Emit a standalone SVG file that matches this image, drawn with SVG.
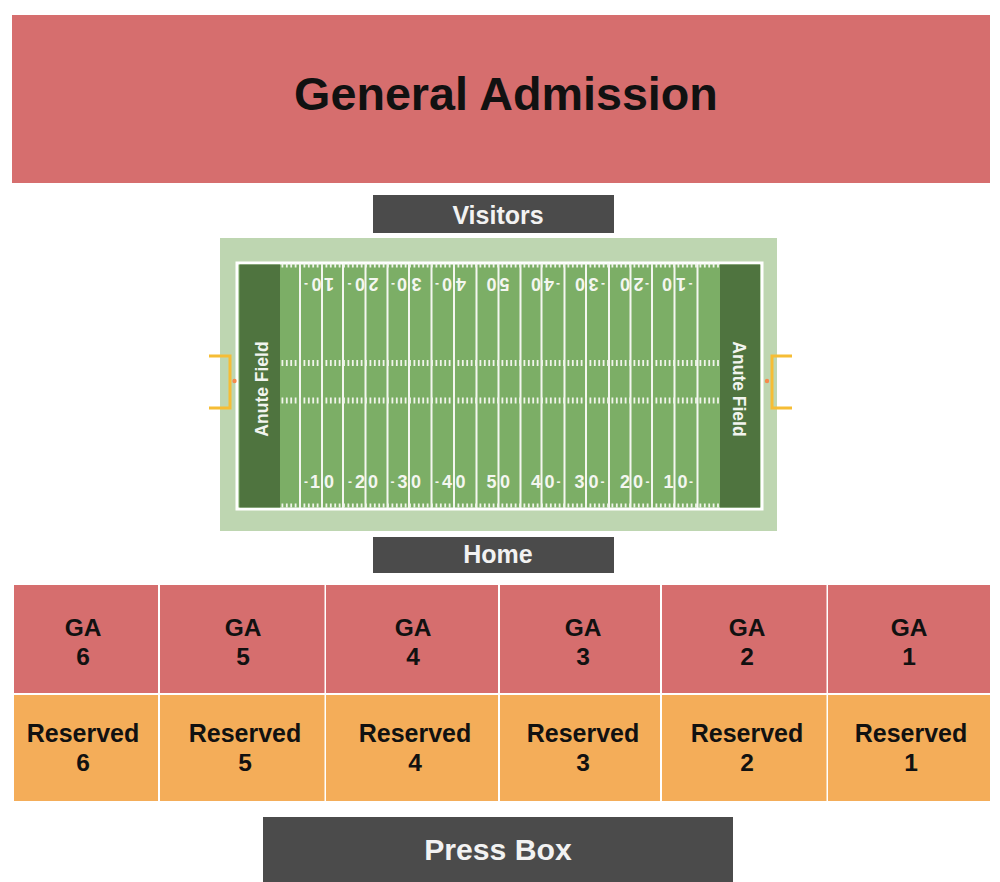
<svg xmlns="http://www.w3.org/2000/svg" width="1000" height="882" viewBox="0 0 1000 882">
<style>
text{font-family:"Liberation Sans",Arial,sans-serif;font-weight:700;text-anchor:middle;fill:#111}
.ga{fill:#d66e6e}.res{fill:#f4ad59}.dark{fill:#4b4b4b}
text.lab{fill:#f2f2f2}
.sec{font-size:24.5px}
.rs{font-size:25px}
.yl{stroke:#f4f6f0;stroke-width:2;fill:none}
.tick{stroke:#f0f4ea;stroke-width:4;stroke-dasharray:1.8 2.6;fill:none}
.hash{stroke:#f0f4ea;stroke-width:6;stroke-dasharray:1.8 2.6;fill:none}
text.num{fill:#f4f6f0;font-size:18px}
.d{font-size:12px}
.ez{fill:#4f743f}
text.ezt{fill:#f2f4ef;font-size:17.5px}
.post{stroke:#f6bd35;stroke-width:3;fill:none}
</style>
<g id="general-admission"><rect class="ga" x="12" y="15" width="978" height="168"/><text x="506" y="110" font-size="46.700">General Admission</text></g>
<g id="visitors"><rect class="dark" x="373" y="195" width="241" height="38"/><text class="lab" x="498" y="224" font-size="25">Visitors</text></g>
<g id="field">
<rect x="220" y="238" width="557" height="293" fill="#bed6b1"/>
<rect x="237" y="263" width="525" height="246" fill="#7cae66" stroke="#fff" stroke-width="3"/>
<rect class="ez" x="239.500" y="264.500" width="40.500" height="243"/>
<rect class="ez" x="720" y="264.500" width="40" height="243"/>
<path class="yl" d="M300 264V508M322 264V508M343 264V508M365.500 264V508M387.500 264V508M409 264V508M431.500 264V508M454 264V508M476.500 264V508M498.500 264V508M520.500 264V508M541.500 264V508M564.500 264V508M586 264V508M609 264V508M630.500 264V508M652 264V508M674.500 264V508M697.500 264V508"/>
<path class="tick" d="M281.500 265.500H719M281.500 505.500H719"/>
<path class="hash" d="M281.500 363H719M281.500 400.500H719"/>
<g id="yard-numbers-bottom">
<text class="num" x="306 315 329" y="485.500 488 488"><tspan class="d">-</tspan>10</text>
<text class="num" x="350 360 373" y="485.500 488 488"><tspan class="d">-</tspan>20</text>
<text class="num" x="392.500 402.500 416" y="485.500 488 488"><tspan class="d">-</tspan>30</text>
<text class="num" x="437 447 460.500" y="485.500 488 488"><tspan class="d">-</tspan>40</text>
<text class="num" x="491.500 505" y="488">50</text>
<text class="num" x="536 549.500 558.500" y="488 488 485.500">40<tspan class="d">-</tspan></text>
<text class="num" x="579.500 593.500 602.500" y="488 488 485.500">30<tspan class="d">-</tspan></text>
<text class="num" x="625 638 647.500" y="488 488 485.500">20<tspan class="d">-</tspan></text>
<text class="num" x="668.500 682.500 691" y="488 488 485.500">10<tspan class="d">-</tspan></text>
</g>
<g id="yard-numbers-top" transform="rotate(180 500 283.500)">
<text class="num" x="671 683.500 694" y="289 289 287.500">10<tspan class="d">-</tspan></text>
<text class="num" x="626.500 640 650.500" y="289 289 287.500">20<tspan class="d">-</tspan></text>
<text class="num" x="583.500 598 607" y="289 289 287.500">30<tspan class="d">-</tspan></text>
<text class="num" x="539 553 563" y="289 289 287.500">40<tspan class="d">-</tspan></text>
<text class="num" x="495.500 508.500" y="289">50</text>
<text class="num" x="442 451 464" y="287.500 289 289"><tspan class="d">-</tspan>40</text>
<text class="num" x="397 406.500 420" y="287.500 289 289"><tspan class="d">-</tspan>30</text>
<text class="num" x="353 361.500 375" y="287.500 289 289"><tspan class="d">-</tspan>20</text>
<text class="num" x="309.500 319 333" y="287.500 289 289"><tspan class="d">-</tspan>10</text>
</g>
<text class="ezt" transform="translate(268 389) rotate(-90)">Anute Field</text>
<text class="ezt" transform="translate(733 389) rotate(90)">Anute Field</text>
<path class="post" d="M209 356H230V408H209"/><path class="post" d="M792 356H772V408H792"/>
<circle cx="234.500" cy="381" r="2.200" fill="#f58a4b"/><circle cx="767" cy="381" r="2.200" fill="#f58a4b"/>
</g>
<g id="home"><rect class="dark" x="373" y="537" width="241" height="36"/><text class="lab" x="498" y="563" font-size="25">Home</text></g>
<g id="ga-6"><rect class="ga" x="14" y="585" width="144" height="108"/><text class="sec" x="83" y="636">GA</text><text class="sec" x="83" y="665">6</text></g>
<g id="ga-5"><rect class="ga" x="160" y="585" width="164.500" height="108"/><text class="sec" x="243" y="636">GA</text><text class="sec" x="243" y="665">5</text></g>
<g id="ga-4"><rect class="ga" x="326" y="585" width="172" height="108"/><text class="sec" x="413" y="636">GA</text><text class="sec" x="413" y="665">4</text></g>
<g id="ga-3"><rect class="ga" x="500" y="585" width="160" height="108"/><text class="sec" x="583" y="636">GA</text><text class="sec" x="583" y="665">3</text></g>
<g id="ga-2"><rect class="ga" x="662" y="585" width="164.500" height="108"/><text class="sec" x="747" y="636">GA</text><text class="sec" x="747" y="665">2</text></g>
<g id="ga-1"><rect class="ga" x="828" y="585" width="162" height="108"/><text class="sec" x="909" y="636">GA</text><text class="sec" x="909" y="665">1</text></g>
<g id="reserved-6"><rect class="res" x="14" y="695" width="144" height="106"/><text class="rs" x="83" y="742">Reserved</text><text class="sec" x="83" y="771">6</text></g>
<g id="reserved-5"><rect class="res" x="160" y="695" width="164.500" height="106"/><text class="rs" x="245" y="742">Reserved</text><text class="sec" x="245" y="771">5</text></g>
<g id="reserved-4"><rect class="res" x="326" y="695" width="172" height="106"/><text class="rs" x="415" y="742">Reserved</text><text class="sec" x="415" y="771">4</text></g>
<g id="reserved-3"><rect class="res" x="500" y="695" width="160" height="106"/><text class="rs" x="583" y="742">Reserved</text><text class="sec" x="583" y="771">3</text></g>
<g id="reserved-2"><rect class="res" x="662" y="695" width="164.500" height="106"/><text class="rs" x="747" y="742">Reserved</text><text class="sec" x="747" y="771">2</text></g>
<g id="reserved-1"><rect class="res" x="828" y="695" width="162" height="106"/><text class="rs" x="911" y="742">Reserved</text><text class="sec" x="911" y="771">1</text></g>
<g id="press-box"><rect class="dark" x="263" y="817" width="470" height="65"/><text class="lab" x="498" y="860" font-size="30.200">Press Box</text></g>
</svg>
